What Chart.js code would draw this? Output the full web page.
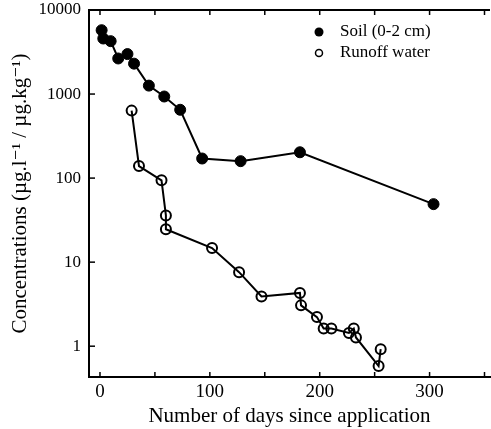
<!DOCTYPE html>
<html>
<head>
<meta charset="utf-8">
<script src="https://cdn.jsdelivr.net/npm/chart.js@4"></script>
<style>
  html, body { margin: 0; padding: 0; background: #fff; }
</style>
</head>
<body>
<canvas id="chart" width="491" height="429"></canvas>
<script>
// --- data ---
const soilDays   = [1.5, 3, 9.7, 16.6, 25, 31, 44.5, 58.5, 73, 93, 128, 182, 303.6];
const soilConc   = [5750, 4580, 4260, 2650, 2990, 2300, 1260, 935, 650, 171, 159, 203, 49];
const runoffDays = [28.8, 35.5, 56, 60, 60, 102, 126.6, 147, 182, 183, 197.5, 203.6, 210.6, 226.6, 231, 233, 253.6, 255.5];
const runoffConc = [635, 139, 94, 36, 24.6, 14.7, 7.6, 3.9, 4.3, 3.06, 2.22, 1.62, 1.62, 1.44, 1.62, 1.27, 0.58, 0.92];
const xTickLabels = [0, 100, 200, 300];
const yTickValues = [1, 10, 100, 1000, 10000];

const FONT = '"Liberation Serif", "DejaVu Serif", serif';

function toPoints(xs, ys) {
    return xs.map((x, i) => ({ x: x, y: ys[i] }));
}

// ticks drawn inward, top frame line, legend in plot
const frameAndLegend = {
    id: 'frameAndLegend',
    afterDraw(chart) {
        const ctx = chart.ctx;
        const xs = chart.scales.x, ys = chart.scales.y;
        const area = chart.chartArea;
        ctx.save();
        ctx.strokeStyle = '#000';
        ctx.lineWidth = 2;
        // top frame
        ctx.beginPath();
        ctx.moveTo(area.left, area.top);
        ctx.lineTo(area.right, area.top);
        ctx.stroke();
        ctx.lineWidth = 1.5;
        xs.ticks.forEach(t => {
            const px = xs.getPixelForValue(t.value);
            ctx.beginPath();
            ctx.moveTo(px, area.bottom);
            ctx.lineTo(px, area.bottom - 5);
            ctx.moveTo(px, area.top);
            ctx.lineTo(px, area.top + 5);
            ctx.stroke();
        });
        ys.ticks.forEach(t => {
            const py = ys.getPixelForValue(t.value);
            ctx.beginPath();
            ctx.moveTo(area.left, py);
            ctx.lineTo(area.left + 6, py);
            ctx.stroke();
        });
        // legend
        ctx.fillStyle = '#000';
        ctx.beginPath();
        ctx.arc(319, 32, 4.5, 0, Math.PI * 2);
        ctx.fill();
        ctx.lineWidth = 1.5;
        ctx.beginPath();
        ctx.arc(319, 53, 3.5, 0, Math.PI * 2);
        ctx.stroke();
        ctx.font = '17px ' + FONT;
        ctx.textBaseline = 'middle';
        ctx.fillText('Soil (0-2 cm)', 340, 32);
        ctx.fillText('Runoff water', 340, 53);
        ctx.restore();
    }
};

new Chart(document.getElementById('chart'), {
    type: 'scatter',
    data: {
        datasets: [
            {
                label: 'Soil (0-2 cm)',
                data: toPoints(soilDays, soilConc),
                showLine: true,
                borderColor: '#000',
                borderWidth: 2,
                backgroundColor: '#000',
                pointRadius: 5.5,
                pointBorderWidth: 1,
                pointBorderColor: '#000',
                pointBackgroundColor: '#000'
            },
            {
                label: 'Runoff water',
                data: toPoints(runoffDays, runoffConc),
                showLine: true,
                borderColor: '#000',
                borderWidth: 2,
                pointRadius: 5,
                pointBorderWidth: 2,
                pointBorderColor: '#000',
                pointBackgroundColor: 'rgba(255,255,255,0)'
            }
        ]
    },
    options: {
        responsive: false,
        animation: false,
        layout: { autoPadding: false, padding: { top: 10, right: 1, left: 8, bottom: 0 } },
        plugins: {
            legend: { display: false },
            tooltip: { enabled: false }
        },
        scales: {
            x: {
                type: 'linear',
                min: -10,
                max: 355,
                grid: { display: false, drawTicks: false },
                border: { display: true, color: '#000', width: 2 },
                afterBuildTicks: s => { s.ticks = [0, 50, 100, 150, 200, 250, 300, 350].map(v => ({ value: v })); },
                afterFit: s => { s.height = 52; s.paddingLeft = 0; s.paddingRight = 0; },
                ticks: {
                    color: '#000',
                    font: { family: FONT, size: 19 },
                    padding: 4,
                    maxRotation: 0,
                    callback: v => xTickLabels.includes(v) ? String(v) : ''
                },
                title: {
                    display: true,
                    text: 'Number of days since application',
                    color: '#000',
                    font: { family: FONT, size: 21 },
                    padding: { top: 0, bottom: 0 }
                }
            },
            y: {
                type: 'logarithmic',
                min: 0.43,
                max: 10000,
                grid: { display: false, drawTicks: false },
                border: { display: true, color: '#000', width: 2 },
                afterBuildTicks: s => { s.ticks = yTickValues.map(v => ({ value: v })); },
                afterFit: s => { s.width = 81; s.paddingTop = 0; s.paddingBottom = 0; },
                ticks: {
                    color: '#000',
                    font: { family: FONT, size: 17 },
                    padding: 8,
                    callback: v => String(v)
                },
                title: {
                    display: true,
                    text: 'Concentrations (µg.l⁻¹ / µg.kg⁻¹)',
                    color: '#000',
                    font: { family: FONT, size: 21 },
                    padding: { top: 0, bottom: 2 }
                }
            }
        }
    },
    plugins: [frameAndLegend]
});
</script>
</body>
</html>
